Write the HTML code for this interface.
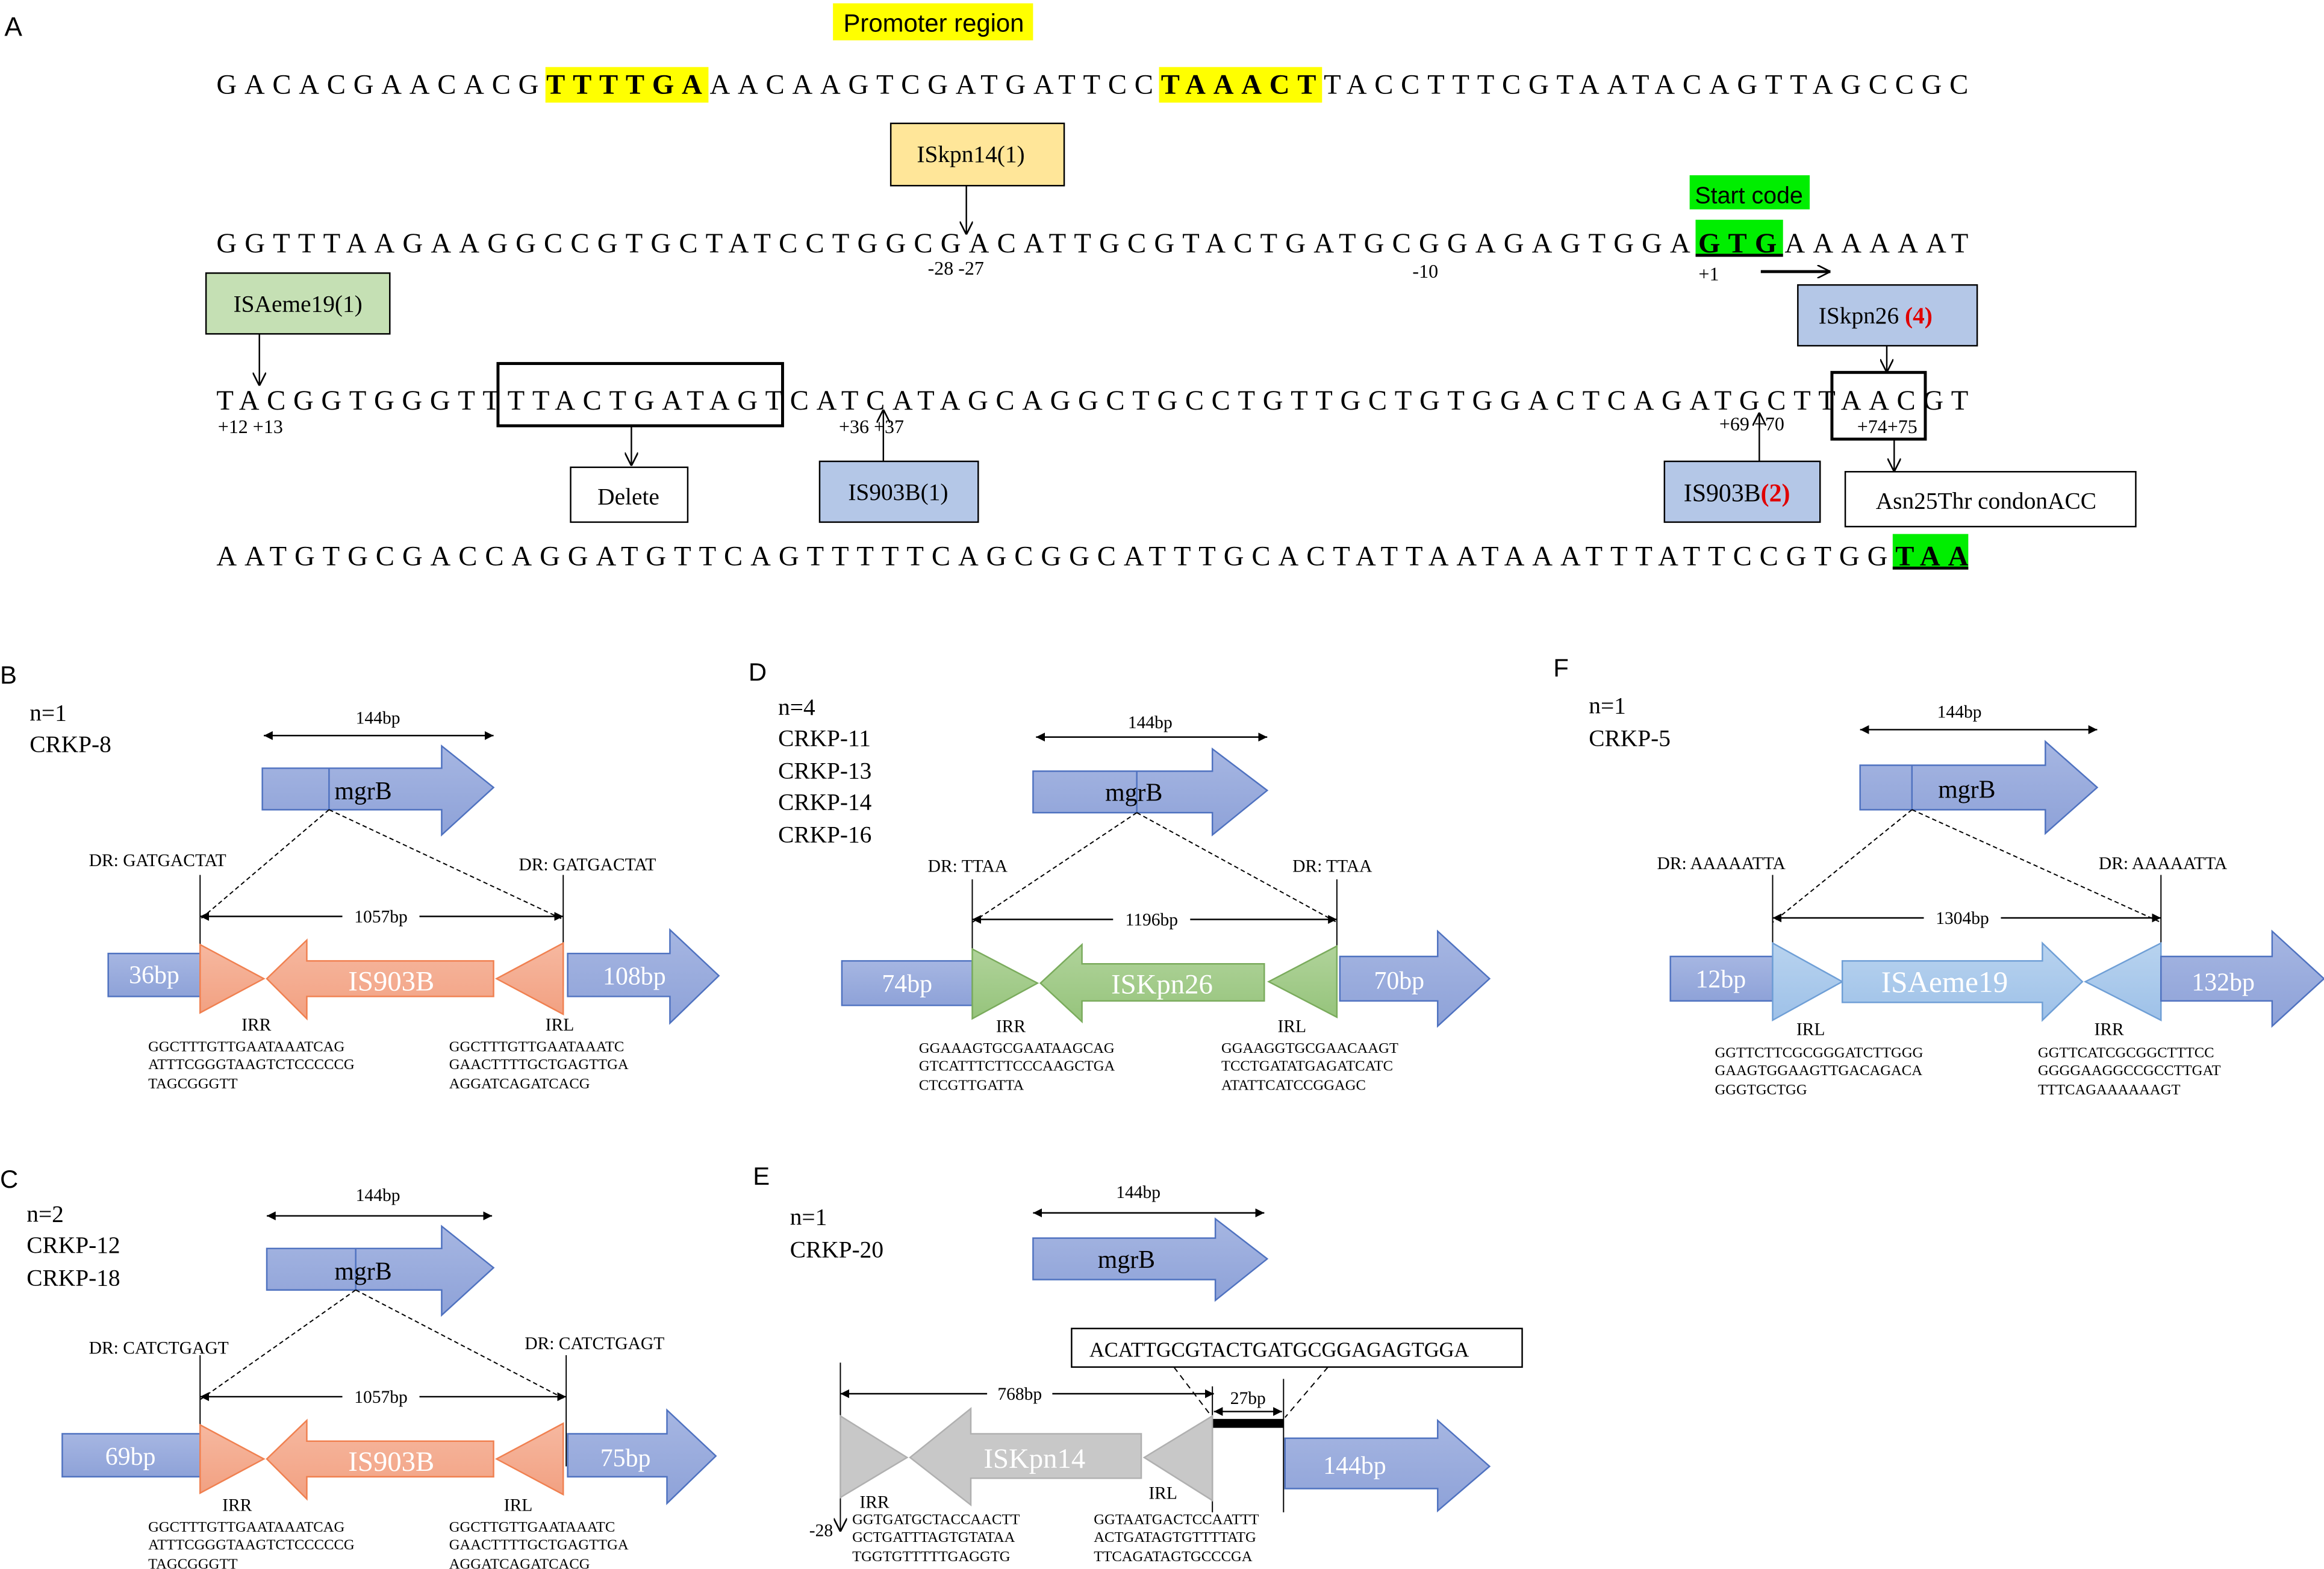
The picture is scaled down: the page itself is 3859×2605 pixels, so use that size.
<!DOCTYPE html>
<html><head><meta charset="utf-8"><style>
html,body{margin:0;padding:0;background:#fff;}
svg{display:block;}
text{font-family:"Liberation Serif",serif;fill:#000;}
.sans{font-family:"Liberation Sans",sans-serif;}
.w{fill:#fff;}
</style></head><body>
<svg width="3859" height="2605" viewBox="0 0 1568 1058" xmlns="http://www.w3.org/2000/svg">
<defs>
<marker id="v" viewBox="0 0 10 10" refX="10" refY="5" markerWidth="9" markerHeight="9" orient="auto" markerUnits="userSpaceOnUse"><path d="M0,0 L10,5 L0,10" fill="none" stroke="#000" stroke-width="1.2"/></marker>
<marker id="f" viewBox="0 0 10 10" refX="10" refY="5" markerWidth="6" markerHeight="6" orient="auto-start-reverse" markerUnits="userSpaceOnUse"><path d="M0,0 L10,5 L0,10 z" fill="#000"/></marker>
<linearGradient id="gb" x1="0" y1="0" x2="0" y2="1"><stop offset="0" stop-color="#a6b6e2"/><stop offset="1" stop-color="#8ea2d8"/></linearGradient>
<linearGradient id="go" x1="0" y1="0" x2="0" y2="1"><stop offset="0" stop-color="#f6b8a0"/><stop offset="1" stop-color="#f2a182"/></linearGradient>
<linearGradient id="gg" x1="0" y1="0" x2="0" y2="1"><stop offset="0" stop-color="#b0d39a"/><stop offset="1" stop-color="#96c47c"/></linearGradient>
<linearGradient id="gl" x1="0" y1="0" x2="0" y2="1"><stop offset="0" stop-color="#b8d3ef"/><stop offset="1" stop-color="#9ec1e8"/></linearGradient>
</defs>

<!-- PANEL A -->
<text x="3" y="24" font-size="18" class="sans">A</text>
<rect x="562" y="2" width="135" height="25" fill="#ffff00"/>
<text x="630" y="21" font-size="17" class="sans" text-anchor="middle">Promoter region</text>

<rect x="368" y="45" width="110" height="24" fill="#ffff00"/>
<rect x="782" y="45" width="110" height="24" fill="#ffff00"/>
<text x="146" y="63" font-size="19" textLength="1182" lengthAdjust="spacing">GACACGAACACG<tspan font-weight="bold">TTTTGA</tspan>AACAAGTCGATGATTCC<tspan font-weight="bold">TAAACT</tspan>TACCTTTCGTAATACAGTTAGCCGC</text>

<rect x="601" y="83" width="117" height="42" fill="#ffe699" stroke="#000" stroke-width="1"/>
<text x="655" y="109" font-size="16" text-anchor="middle">ISkpn14(1)</text>
<line x1="652" y1="125" x2="652" y2="158" stroke="#000" marker-end="url(#v)"/>
<rect x="1140" y="118" width="81" height="23" fill="#00ee00"/>
<text x="1180" y="137" font-size="16" class="sans" text-anchor="middle">Start code</text>

<rect x="1144" y="148" width="59" height="24" fill="#00ee00"/>
<line x1="1144" y1="172" x2="1203" y2="172" stroke="#000" stroke-width="2"/>
<text x="146" y="170" font-size="19" textLength="1182" lengthAdjust="spacing">GGTTTAAGAAGGCCGTGCTATCCTGGCGACATTGCGTACTGATGCGGAGAGTGGA<tspan font-weight="bold">GTG</tspan>AAAAAAT</text>
<text x="626" y="185" font-size="13">-28 -27</text>
<text x="953" y="187" font-size="13">-10</text>
<text x="1146" y="189" font-size="13">+1</text>
<line x1="1188" y1="183" x2="1235" y2="183" stroke="#000" stroke-width="2" marker-end="url(#v)"/>

<rect x="139" y="184" width="124" height="41" fill="#c5e0b4" stroke="#000"/>
<text x="201" y="210" font-size="16" text-anchor="middle">ISAeme19(1)</text>
<line x1="175" y1="225" x2="175" y2="260" stroke="#000" marker-end="url(#v)"/>
<rect x="1213" y="192" width="121" height="41" fill="#b4c7e7" stroke="#000"/>
<text x="1227" y="218" font-size="16">ISkpn26 <tspan fill="#e00000" font-weight="bold">(4)</tspan></text>
<line x1="1273" y1="233" x2="1273" y2="251" stroke="#000" marker-end="url(#v)"/>

<rect x="336" y="245" width="192" height="42" fill="none" stroke="#000" stroke-width="2"/>
<rect x="1236" y="251" width="63" height="45" fill="none" stroke="#000" stroke-width="2"/>
<text x="146" y="276" font-size="19" textLength="1182" lengthAdjust="spacing">TACGGTGGGTTTTACTGATAGTCATCATAGCAGGCTGCCTGTTGCTGTGGACTCAGATGCTTAACGT</text>
<text x="147" y="292" font-size="13">+12 +13</text>
<line x1="426" y1="287" x2="426" y2="314" stroke="#000" marker-end="url(#v)"/>
<rect x="385" y="315" width="79" height="37" fill="#fff" stroke="#000"/>
<text x="424" y="340" font-size="16" text-anchor="middle">Delete</text>
<text x="566" y="292" font-size="13">+36 +37</text>
<line x1="596" y1="311" x2="596" y2="276" stroke="#000" marker-end="url(#v)"/>
<rect x="553" y="311" width="107" height="41" fill="#b4c7e7" stroke="#000"/>
<text x="606" y="337" font-size="16" text-anchor="middle">IS903B(1)</text>
<text x="1160" y="290" font-size="13">+69 +70</text>
<line x1="1187" y1="311" x2="1187" y2="278" stroke="#000" marker-end="url(#v)"/>
<rect x="1123" y="311" width="105" height="41" fill="#b4c7e7" stroke="#000"/>
<text x="1136" y="338" font-size="17">IS903B<tspan fill="#e00000" font-weight="bold">(2)</tspan></text>
<text x="1253" y="292" font-size="13">+74+75</text>
<line x1="1278" y1="296" x2="1278" y2="318" stroke="#000" marker-end="url(#v)"/>
<rect x="1245" y="318" width="196" height="37" fill="#fff" stroke="#000"/>
<text x="1340" y="343" font-size="16" text-anchor="middle">Asn25Thr condonACC</text>

<rect x="1277" y="360" width="51" height="24" fill="#00ee00"/>
<line x1="1277" y1="383" x2="1328" y2="383" stroke="#000" stroke-width="2"/>
<text x="146" y="381" font-size="19" textLength="1182" lengthAdjust="spacing">AATGTGCGACCAGGATGTTCAGTTTTTCAGCGGCATTTGCACTATTAATAAATTTATTCCGTGG<tspan font-weight="bold">TAA</tspan></text>

<!-- PANEL B -->
<g>
<text x="0" y="461" font-size="17" class="sans">B</text>
<text x="20" y="486" font-size="16">n=1</text>
<text x="20" y="507" font-size="16">CRKP-8</text>
<line x1="178" y1="496" x2="333" y2="496" stroke="#000" marker-start="url(#f)" marker-end="url(#f)"/>
<text x="255" y="488" font-size="12" text-anchor="middle">144bp</text>
<path d="M177,518 L298,518 L298,503 L333,531 L298,563 L298,546 L177,546 z" fill="url(#gb)" stroke="#4f72c0"/>
<line x1="222" y1="518" x2="222" y2="546" stroke="#4f72c0"/>
<text x="245" y="539" font-size="17" text-anchor="middle">mgrB</text>
<line x1="222" y1="546" x2="135" y2="620" stroke="#000" stroke-dasharray="3,2" stroke-width="0.8"/>
<line x1="222" y1="546" x2="380" y2="620" stroke="#000" stroke-dasharray="3,2" stroke-width="0.8"/>
<text x="60" y="584" font-size="12">DR: GATGACTAT</text>
<text x="350" y="587" font-size="12">DR: GATGACTAT</text>
<line x1="135" y1="590" x2="135" y2="660" stroke="#000" stroke-width="0.8"/>
<line x1="380" y1="590" x2="380" y2="665" stroke="#000" stroke-width="0.8"/>
<line x1="135" y1="618" x2="380" y2="618" stroke="#000" marker-start="url(#f)" marker-end="url(#f)"/>
<rect x="231" y="610" width="52" height="14" fill="#fff"/>
<text x="257" y="622" font-size="12" text-anchor="middle">1057bp</text>
<rect x="73" y="643" width="62" height="29" fill="url(#gb)" stroke="#4f72c0"/>
<text x="104" y="663" font-size="17" class="w" text-anchor="middle">36bp</text>
<path d="M135,637 L178,660 L135,683 z" fill="url(#go)" stroke="#f08050"/>
<path d="M180,660 L207,634 L207,648 L333,648 L333,672 L207,672 L207,687 z" fill="url(#go)" stroke="#f08050"/>
<text x="264" y="668" font-size="19" class="w" text-anchor="middle">IS903B</text>
<path d="M380,636 L335,660 L380,684 z" fill="url(#go)" stroke="#f08050"/>
<path d="M383,643 L452,643 L452,627 L485,658 L452,690 L452,672 L383,672 z" fill="url(#gb)" stroke="#4f72c0"/>
<text x="428" y="664" font-size="17" class="w" text-anchor="middle">108bp</text>
<text x="163" y="695" font-size="12">IRR</text>
<text x="368" y="695" font-size="12">IRL</text>
<text x="100" y="709" font-size="10">GGCTTTGTTGAATAAATCAG</text>
<text x="100" y="721" font-size="10">ATTTCGGGTAAGTCTCCCCCG</text>
<text x="100" y="734" font-size="10">TAGCGGGTT</text>
<text x="303" y="709" font-size="10">GGCTTTGTTGAATAAATC</text>
<text x="303" y="721" font-size="10">GAACTTTTGCTGAGTTGA</text>
<text x="303" y="734" font-size="10">AGGATCAGATCACG</text>
</g>

<!-- PANEL C -->
<g transform="translate(0,324)">
<text x="0" y="477" font-size="17" class="sans">C</text>
<text x="18" y="500" font-size="16">n=2</text>
<text x="18" y="521" font-size="16">CRKP-12</text>
<text x="18" y="543" font-size="16">CRKP-18</text>
<line x1="180" y1="496" x2="332" y2="496" stroke="#000" marker-start="url(#f)" marker-end="url(#f)"/>
<text x="255" y="486" font-size="12" text-anchor="middle">144bp</text>
<path d="M180,518 L298,518 L298,503 L333,531 L298,563 L298,546 L180,546 z" fill="url(#gb)" stroke="#4f72c0"/>
<line x1="240" y1="518" x2="240" y2="546" stroke="#4f72c0"/>
<text x="245" y="539" font-size="17" text-anchor="middle">mgrB</text>
<line x1="240" y1="546" x2="135" y2="620" stroke="#000" stroke-dasharray="3,2" stroke-width="0.8"/>
<line x1="240" y1="546" x2="382" y2="620" stroke="#000" stroke-dasharray="3,2" stroke-width="0.8"/>
<text x="60" y="589" font-size="12">DR: CATCTGAGT</text>
<text x="354" y="586" font-size="12">DR: CATCTGAGT</text>
<line x1="135" y1="590" x2="135" y2="660" stroke="#000" stroke-width="0.8"/>
<line x1="382" y1="590" x2="382" y2="665" stroke="#000" stroke-width="0.8"/>
<line x1="135" y1="618" x2="382" y2="618" stroke="#000" marker-start="url(#f)" marker-end="url(#f)"/>
<rect x="231" y="610" width="52" height="14" fill="#fff"/>
<text x="257" y="622" font-size="12" text-anchor="middle">1057bp</text>
<rect x="42" y="643" width="93" height="29" fill="url(#gb)" stroke="#4f72c0"/>
<text x="88" y="664" font-size="17" class="w" text-anchor="middle">69bp</text>
<path d="M135,637 L178,660 L135,683 z" fill="url(#go)" stroke="#f08050"/>
<path d="M180,660 L207,634 L207,648 L333,648 L333,672 L207,672 L207,687 z" fill="url(#go)" stroke="#f08050"/>
<text x="264" y="668" font-size="19" class="w" text-anchor="middle">IS903B</text>
<path d="M380,636 L335,660 L380,684 z" fill="url(#go)" stroke="#f08050"/>
<path d="M383,643 L450,643 L450,627 L483,658 L450,690 L450,672 L383,672 z" fill="url(#gb)" stroke="#4f72c0"/>
<text x="422" y="665" font-size="17" class="w" text-anchor="middle">75bp</text>
<text x="150" y="695" font-size="12">IRR</text>
<text x="340" y="695" font-size="12">IRL</text>
<text x="100" y="709" font-size="10">GGCTTTGTTGAATAAATCAG</text>
<text x="100" y="721" font-size="10">ATTTCGGGTAAGTCTCCCCCG</text>
<text x="100" y="734" font-size="10">TAGCGGGTT</text>
<text x="303" y="709" font-size="10">GGCTTGTTGAATAAATC</text>
<text x="303" y="721" font-size="10">GAACTTTTGCTGAGTTGA</text>
<text x="303" y="734" font-size="10">AGGATCAGATCACG</text>
</g>

<!-- PANEL D -->
<text x="505" y="459" font-size="17" class="sans">D</text>
<text x="525" y="482" font-size="16">n=4</text>
<text x="525" y="503" font-size="16">CRKP-11</text>
<text x="525" y="525" font-size="16">CRKP-13</text>
<text x="525" y="546" font-size="16">CRKP-14</text>
<text x="525" y="568" font-size="16">CRKP-16</text>
<line x1="699" y1="497" x2="855" y2="497" stroke="#000" marker-start="url(#f)" marker-end="url(#f)"/>
<text x="776" y="491" font-size="12" text-anchor="middle">144bp</text>
<path d="M697,520 L818,520 L818,505 L855,533 L818,563 L818,548 L697,548 z" fill="url(#gb)" stroke="#4f72c0"/>
<line x1="767" y1="520" x2="767" y2="548" stroke="#4f72c0"/>
<text x="765" y="540" font-size="17" text-anchor="middle">mgrB</text>
<line x1="767" y1="548" x2="656" y2="622" stroke="#000" stroke-dasharray="3,2" stroke-width="0.8"/>
<line x1="767" y1="548" x2="902" y2="622" stroke="#000" stroke-dasharray="3,2" stroke-width="0.8"/>
<text x="626" y="588" font-size="12">DR: TTAA</text>
<text x="872" y="588" font-size="12">DR: TTAA</text>
<line x1="656" y1="593" x2="656" y2="660" stroke="#000" stroke-width="0.8"/>
<line x1="902" y1="593" x2="902" y2="665" stroke="#000" stroke-width="0.8"/>
<line x1="656" y1="620" x2="902" y2="620" stroke="#000" marker-start="url(#f)" marker-end="url(#f)"/>
<rect x="751" y="612" width="52" height="14" fill="#fff"/>
<text x="777" y="624" font-size="12" text-anchor="middle">1196bp</text>
<rect x="568" y="648" width="88" height="30" fill="url(#gb)" stroke="#4f72c0"/>
<text x="612" y="669" font-size="17" class="w" text-anchor="middle">74bp</text>
<path d="M656,640 L700,663 L656,687 z" fill="url(#gg)" stroke="#7aab5c"/>
<path d="M702,663 L730,637 L730,650 L853,650 L853,675 L730,675 L730,689 z" fill="url(#gg)" stroke="#7aab5c"/>
<text x="784" y="670" font-size="19" class="w" text-anchor="middle">ISKpn26</text>
<path d="M902,638 L856,662 L902,686 z" fill="url(#gg)" stroke="#7aab5c"/>
<path d="M904,645 L970,645 L970,628 L1005,660 L970,692 L970,675 L904,675 z" fill="url(#gb)" stroke="#4f72c0"/>
<text x="944" y="667" font-size="17" class="w" text-anchor="middle">70bp</text>
<text x="672" y="696" font-size="12">IRR</text>
<text x="862" y="696" font-size="12">IRL</text>
<text x="620" y="710" font-size="10">GGAAAGTGCGAATAAGCAG</text>
<text x="620" y="722" font-size="10">GTCATTTCTTCCCAAGCTGA</text>
<text x="620" y="735" font-size="10">CTCGTTGATTA</text>
<text x="824" y="710" font-size="10">GGAAGGTGCGAACAAGT</text>
<text x="824" y="722" font-size="10">TCCTGATATGAGATCATC</text>
<text x="824" y="735" font-size="10">ATATTCATCCGGAGC</text>

<!-- PANEL F -->
<text x="1048" y="456" font-size="17" class="sans">F</text>
<text x="1072" y="481" font-size="16">n=1</text>
<text x="1072" y="503" font-size="16">CRKP-5</text>
<line x1="1255" y1="492" x2="1415" y2="492" stroke="#000" marker-start="url(#f)" marker-end="url(#f)"/>
<text x="1322" y="484" font-size="12" text-anchor="middle">144bp</text>
<path d="M1255,516 L1380,516 L1380,500 L1415,531 L1380,562 L1380,546 L1255,546 z" fill="url(#gb)" stroke="#4f72c0"/>
<line x1="1290" y1="516" x2="1290" y2="546" stroke="#4f72c0"/>
<text x="1327" y="538" font-size="17" text-anchor="middle">mgrB</text>
<line x1="1290" y1="546" x2="1196" y2="622" stroke="#000" stroke-dasharray="3,2" stroke-width="0.8"/>
<line x1="1290" y1="546" x2="1458" y2="622" stroke="#000" stroke-dasharray="3,2" stroke-width="0.8"/>
<text x="1118" y="586" font-size="12">DR: AAAAATTA</text>
<text x="1416" y="586" font-size="12">DR: AAAAATTA</text>
<line x1="1196" y1="590" x2="1196" y2="660" stroke="#000" stroke-width="0.8"/>
<line x1="1458" y1="590" x2="1458" y2="665" stroke="#000" stroke-width="0.8"/>
<line x1="1196" y1="619" x2="1458" y2="619" stroke="#000" marker-start="url(#f)" marker-end="url(#f)"/>
<rect x="1298" y="611" width="52" height="14" fill="#fff"/>
<text x="1324" y="623" font-size="12" text-anchor="middle">1304bp</text>
<rect x="1127" y="645" width="69" height="30" fill="url(#gb)" stroke="#4f72c0"/>
<text x="1161" y="666" font-size="17" class="w" text-anchor="middle">12bp</text>
<path d="M1196,636 L1243,662 L1196,688 z" fill="url(#gl)" stroke="#6f9fd6"/>
<path d="M1243,648 L1378,648 L1378,636 L1405,662 L1378,688 L1378,676 L1243,676 z" fill="url(#gl)" stroke="#6f9fd6"/>
<text x="1312" y="669" font-size="20" class="w" text-anchor="middle">ISAeme19</text>
<path d="M1458,636 L1407,662 L1458,688 z" fill="url(#gl)" stroke="#6f9fd6"/>
<path d="M1458,645 L1533,645 L1533,628 L1568,660 L1533,692 L1533,675 L1458,675 z" fill="url(#gb)" stroke="#4f72c0"/>
<text x="1500" y="668" font-size="17" class="w" text-anchor="middle">132bp</text>
<text x="1212" y="698" font-size="12">IRL</text>
<text x="1413" y="698" font-size="12">IRR</text>
<text x="1157" y="713" font-size="10">GGTTCTTCGCGGGATCTTGGG</text>
<text x="1157" y="725" font-size="10">GAAGTGGAAGTTGACAGACA</text>
<text x="1157" y="738" font-size="10">GGGTGCTGG</text>
<text x="1375" y="713" font-size="10">GGTTCATCGCGGCTTTCC</text>
<text x="1375" y="725" font-size="10">GGGGAAGGCCGCCTTGAT</text>
<text x="1375" y="738" font-size="10">TTTCAGAAAAAAGT</text>

<!-- PANEL E -->
<text x="508" y="799" font-size="17" class="sans">E</text>
<text x="533" y="826" font-size="16">n=1</text>
<text x="533" y="848" font-size="16">CRKP-20</text>
<line x1="697" y1="818" x2="853" y2="818" stroke="#000" marker-start="url(#f)" marker-end="url(#f)"/>
<text x="768" y="808" font-size="12" text-anchor="middle">144bp</text>
<path d="M697,835 L820,835 L820,822 L855,849 L820,877 L820,863 L697,863 z" fill="url(#gb)" stroke="#4f72c0"/>
<text x="760" y="855" font-size="17" text-anchor="middle">mgrB</text>
<rect x="723" y="896" width="304" height="26" fill="#fff" stroke="#000"/>
<text x="735" y="915" font-size="14">ACATTGCGTACTGATGCGGAGAGTGGA</text>
<line x1="792" y1="922" x2="818" y2="956" stroke="#000" stroke-dasharray="4,3" stroke-width="0.8"/>
<line x1="896" y1="922" x2="867" y2="956" stroke="#000" stroke-dasharray="4,3" stroke-width="0.8"/>
<line x1="567" y1="919" x2="567" y2="1033" stroke="#000" stroke-width="0.8" marker-end="url(#v)"/>
<text x="546" y="1036" font-size="12">-28</text>
<line x1="567" y1="940" x2="819" y2="940" stroke="#000" marker-start="url(#f)" marker-end="url(#f)"/>
<rect x="666" y="932" width="44" height="14" fill="#fff"/>
<text x="688" y="944" font-size="12" text-anchor="middle">768bp</text>
<line x1="818" y1="935" x2="818" y2="1020" stroke="#000" stroke-width="0.8"/>
<line x1="866" y1="930" x2="866" y2="1020" stroke="#000" stroke-width="0.8"/>
<text x="842" y="947" font-size="12" text-anchor="middle">27bp</text>
<line x1="819" y1="952" x2="865" y2="952" stroke="#000" marker-start="url(#f)" marker-end="url(#f)"/>
<rect x="818" y="957" width="48" height="6" fill="#000"/>
<path d="M567,955 L612,983 L567,1010 z" fill="#c8c8c8" stroke="#b0b0b0"/>
<path d="M614,983 L655,950 L655,967 L770,967 L770,997 L655,997 L655,1015 z" fill="#c8c8c8" stroke="#b0b0b0"/>
<text x="698" y="990" font-size="19" class="w" text-anchor="middle">ISKpn14</text>
<path d="M818,955 L772,983 L818,1012 z" fill="#c8c8c8" stroke="#b0b0b0"/>
<path d="M867,970 L970,970 L970,958 L1005,989 L970,1019 L970,1004 L867,1004 z" fill="url(#gb)" stroke="#4f72c0"/>
<text x="914" y="994" font-size="17" class="w" text-anchor="middle">144bp</text>
<text x="580" y="1017" font-size="12">IRR</text>
<text x="775" y="1011" font-size="12">IRL</text>
<text x="575" y="1028" font-size="10">GGTGATGCTACCAACTT</text>
<text x="575" y="1040" font-size="10">GCTGATTTAGTGTATAA</text>
<text x="575" y="1053" font-size="10">TGGTGTTTTTGAGGTG</text>
<text x="738" y="1028" font-size="10">GGTAATGACTCCAATTT</text>
<text x="738" y="1040" font-size="10">ACTGATAGTGTTTTATG</text>
<text x="738" y="1053" font-size="10">TTCAGATAGTGCCCGA</text>
</svg>
</body></html>
